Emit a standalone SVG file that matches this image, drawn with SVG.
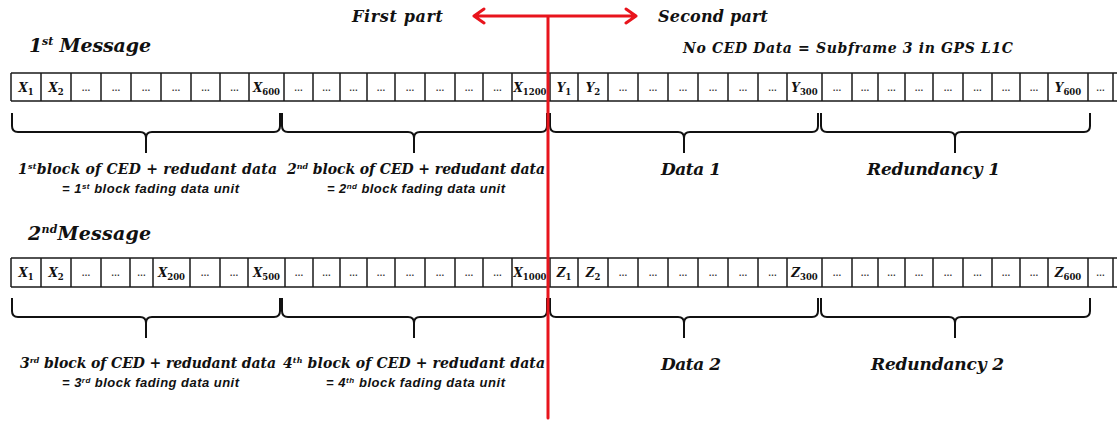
<svg xmlns="http://www.w3.org/2000/svg" width="1117" height="421" viewBox="0 0 1117 421">
<defs>
<style>
.grid{fill:none;stroke:#1a1a1a;stroke-width:1.5}
.brace{fill:none;stroke:#111;stroke-width:2}
.red{fill:none;stroke:#e8141c;stroke-width:3;stroke-linecap:round;stroke-linejoin:round}
.m{font-family:"DejaVu Serif","Liberation Serif",serif;font-weight:bold;font-style:italic;fill:#111}
.c{font-family:"DejaVu Serif","Liberation Serif",serif;font-weight:bold;font-style:italic;font-size:12px;fill:#111;text-anchor:middle}
.c tspan{font-style:normal;font-size:8.5px}
.d{font-family:"Liberation Sans",sans-serif;font-weight:bold;font-size:9px;fill:#333;text-anchor:middle}
.s{font-family:"Liberation Sans",sans-serif;font-weight:bold;font-style:italic;font-size:13px;fill:#111}
</style>
</defs>
<rect width="1117" height="421" fill="#fff"/>

<g id="header">
<text class="m" x="352" y="22" font-size="16" textLength="91">First part</text>
<text class="m" x="658" y="22" font-size="16" textLength="110">Second part</text>
<text class="m" x="683" y="53" font-size="14" textLength="330">No CED Data = Subframe 3 in GPS L1C</text>
</g>

<g id="message1">
<text class="m" x="29" y="52" font-size="19" textLength="122">1<tspan font-size="11" dy="-7">st</tspan><tspan dy="7"> Message</tspan></text>
<path class="grid" d="M11,73H1117M11,101H1117M11,73V101M41,73V101M71,73V101M101,73V101M131,73V101M161,73V101M191,73V101M220,73V101M249,73V101M284,73V101M313,73V101M340,73V101M367,73V101M395,73V101M425,73V101M455,73V101M483,73V101M512,73V101M550,73V101M578,73V101M608,73V101M638,73V101M668,73V101M698,73V101M728,73V101M758,73V101M787,73V101M822,73V101M852,73V101M878,73V101M905,73V101M933,73V101M963,73V101M992,73V101M1020,73V101M1048,73V101M1088,73V101M1113,73V101"/>
<text class="c" x="26" y="92">X<tspan dy="3">1</tspan></text>
<text class="c" x="56" y="92">X<tspan dy="3">2</tspan></text>
<text class="d" x="86" y="91">…</text>
<text class="d" x="116" y="91">…</text>
<text class="d" x="146" y="91">…</text>
<text class="d" x="176" y="91">…</text>
<text class="d" x="205.5" y="91">…</text>
<text class="d" x="234.5" y="91">…</text>
<text class="c" x="266.5" y="92">X<tspan dy="3">600</tspan></text>
<text class="d" x="298.5" y="91">…</text>
<text class="d" x="326.5" y="91">…</text>
<text class="d" x="353.5" y="91">…</text>
<text class="d" x="381" y="91">…</text>
<text class="d" x="410" y="91">…</text>
<text class="d" x="440" y="91">…</text>
<text class="d" x="469" y="91">…</text>
<text class="d" x="497.5" y="91">…</text>
<text class="c" x="530" y="92">X<tspan dy="3">1200</tspan></text>
<text class="c" x="564" y="92">Y<tspan dy="3">1</tspan></text>
<text class="c" x="593" y="92">Y<tspan dy="3">2</tspan></text>
<text class="d" x="623" y="91">…</text>
<text class="d" x="653" y="91">…</text>
<text class="d" x="683" y="91">…</text>
<text class="d" x="713" y="91">…</text>
<text class="d" x="743" y="91">…</text>
<text class="d" x="772.5" y="91">…</text>
<text class="c" x="804.5" y="92">Y<tspan dy="3">300</tspan></text>
<text class="d" x="837" y="91">…</text>
<text class="d" x="865" y="91">…</text>
<text class="d" x="891.5" y="91">…</text>
<text class="d" x="919" y="91">…</text>
<text class="d" x="948" y="91">…</text>
<text class="d" x="977.5" y="91">…</text>
<text class="d" x="1006" y="91">…</text>
<text class="d" x="1034" y="91">…</text>
<text class="c" x="1068" y="92">Y<tspan dy="3">600</tspan></text>
<text class="d" x="1100.5" y="91">…</text>
</g>

<g id="message2">
<text class="m" x="28" y="240" font-size="19" textLength="123">2<tspan font-size="11" dy="-7">nd</tspan><tspan dy="7">Message</tspan></text>
<path class="grid" d="M11,258H1117M11,287H1117M11,258V287M41,258V287M71,258V287M101,258V287M130,258V287M153,258V287M190,258V287M220,258V287M248,258V287M285,258V287M313,258V287M340,258V287M367,258V287M395,258V287M425,258V287M455,258V287M483,258V287M512,258V287M550,258V287M578,258V287M608,258V287M638,258V287M668,258V287M698,258V287M728,258V287M758,258V287M787,258V287M822,258V287M852,258V287M878,258V287M905,258V287M933,258V287M963,258V287M992,258V287M1020,258V287M1048,258V287M1088,258V287M1113,258V287"/>
<text class="c" x="26" y="277">X<tspan dy="3">1</tspan></text>
<text class="c" x="56" y="277">X<tspan dy="3">2</tspan></text>
<text class="d" x="86" y="276">…</text>
<text class="d" x="115.5" y="276">…</text>
<text class="d" x="141.5" y="276">…</text>
<text class="c" x="171.5" y="277">X<tspan dy="3">200</tspan></text>
<text class="d" x="205" y="276">…</text>
<text class="d" x="234" y="276">…</text>
<text class="c" x="266.5" y="277">X<tspan dy="3">500</tspan></text>
<text class="d" x="299" y="276">…</text>
<text class="d" x="326.5" y="276">…</text>
<text class="d" x="353.5" y="276">…</text>
<text class="d" x="381" y="276">…</text>
<text class="d" x="410" y="276">…</text>
<text class="d" x="440" y="276">…</text>
<text class="d" x="469" y="276">…</text>
<text class="d" x="497.5" y="276">…</text>
<text class="c" x="530" y="277">X<tspan dy="3">1000</tspan></text>
<text class="c" x="564" y="277">Z<tspan dy="3">1</tspan></text>
<text class="c" x="593" y="277">Z<tspan dy="3">2</tspan></text>
<text class="d" x="623" y="276">…</text>
<text class="d" x="653" y="276">…</text>
<text class="d" x="683" y="276">…</text>
<text class="d" x="713" y="276">…</text>
<text class="d" x="743" y="276">…</text>
<text class="d" x="772.5" y="276">…</text>
<text class="c" x="804.5" y="277">Z<tspan dy="3">300</tspan></text>
<text class="d" x="837" y="276">…</text>
<text class="d" x="865" y="276">…</text>
<text class="d" x="891.5" y="276">…</text>
<text class="d" x="919" y="276">…</text>
<text class="d" x="948" y="276">…</text>
<text class="d" x="977.5" y="276">…</text>
<text class="d" x="1006" y="276">…</text>
<text class="d" x="1034" y="276">…</text>
<text class="c" x="1068" y="277">Z<tspan dy="3">600</tspan></text>
<text class="d" x="1100.5" y="276">…</text>
</g>

<g id="braces1">
<path class="brace" d="M12,113V126Q12,132 18,132H140Q146,132 146,138V153M146,138Q146,132 152,132H274Q280,132 280,126V113"/>
<path class="brace" d="M282,113V126Q282,132 288,132H408Q414,132 414,138V153M414,138Q414,132 420,132H541Q547,132 547,126V113"/>
<path class="brace" d="M550,113V126Q550,132 556,132H678Q684,132 684,138V153M684,138Q684,132 690,132H812Q818,132 818,126V113"/>
<path class="brace" d="M821,113V126Q821,132 827,132H949Q955,132 955,138V153M955,138Q955,132 961,132H1084Q1090,132 1090,126V113"/>
</g>
<g id="braces2">
<path class="brace" d="M12,298V311Q12,317 18,317H140Q146,317 146,323V338M146,323Q146,317 152,317H274Q280,317 280,311V298"/>
<path class="brace" d="M282,298V311Q282,317 288,317H408Q414,317 414,323V338M414,323Q414,317 420,317H541Q547,317 547,311V298"/>
<path class="brace" d="M550,298V311Q550,317 556,317H678Q684,317 684,323V338M684,323Q684,317 690,317H812Q818,317 818,311V298"/>
<path class="brace" d="M821,298V311Q821,317 827,317H949Q955,317 955,323V338M955,323Q955,317 961,317H1084Q1090,317 1090,311V298"/>
</g>

<g id="labels1">
<text class="m" x="18" y="174" font-size="14" textLength="259">1<tspan font-size="8" dy="-5">st</tspan><tspan dy="5">block of CED + redudant data</tspan></text>
<text class="s" x="62" y="193" textLength="177">= 1<tspan font-size="8" dy="-4">st</tspan><tspan dy="4"> block fading data unit</tspan></text>
<text class="m" x="287" y="174" font-size="14" textLength="258">2<tspan font-size="8" dy="-5">nd</tspan><tspan dy="5"> block of CED + redudant data</tspan></text>
<text class="s" x="327" y="193" textLength="178">= 2<tspan font-size="8" dy="-4">nd</tspan><tspan dy="4"> block fading data unit</tspan></text>
<text class="m" x="661" y="175" font-size="17" textLength="60">Data 1</text>
<text class="m" x="867" y="175" font-size="17" textLength="133">Redundancy 1</text>
</g>
<g id="labels2">
<text class="m" x="20" y="368" font-size="14" textLength="256">3<tspan font-size="8" dy="-5">rd</tspan><tspan dy="5"> block of CED + redudant data</tspan></text>
<text class="s" x="62" y="387" textLength="177">= 3<tspan font-size="8" dy="-4">rd</tspan><tspan dy="4"> block fading data unit</tspan></text>
<text class="m" x="283" y="368" font-size="14" textLength="262">4<tspan font-size="8" dy="-5">th</tspan><tspan dy="5"> block of CED + redudant data</tspan></text>
<text class="s" x="326" y="387" textLength="179">= 4<tspan font-size="8" dy="-4">th</tspan><tspan dy="4"> block fading data unit</tspan></text>
<text class="m" x="661" y="370" font-size="17" textLength="60">Data 2</text>
<text class="m" x="871" y="370" font-size="17" textLength="133">Redundancy 2</text>
</g>

<g id="connectors">
<path class="red" d="M474,16H636M484,9L474,16L484,23M626,9L636,16L626,23M548,16V418"/>
</g>
</svg>
